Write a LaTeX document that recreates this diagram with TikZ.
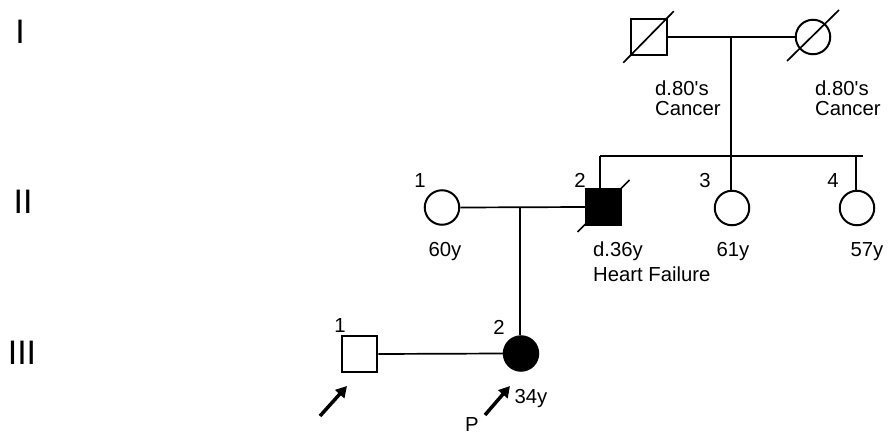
\documentclass[tikz,border=0pt]{standalone}
\usepackage{fontspec}
\setmainfont{Liberation Sans}
\usetikzlibrary{arrows.meta}
\begin{document}
\begin{tikzpicture}[x=1pt,y=-1pt,
  male/.style={draw,line width=2pt,rectangle,minimum size=35.5pt,inner sep=0pt},
  female/.style={draw,line width=2pt,circle,minimum size=34.5pt,inner sep=0pt},
  lbl/.style={font=\fontsize{20.3}{23}\selectfont,inner sep=0pt},
  gen/.style={font=\fontsize{34}{38}\selectfont,inner sep=0pt,anchor=base},
  rel/.style={line width=1.7pt},
  dead/.style={line width=1.7pt},
  proband/.style={line width=3.5pt,-{Triangle[length=11pt,width=12pt]}}
]
\useasboundingbox (0,0) rectangle (892,434);

% generation labels
\node[gen] (gI) at (20,43) {I};
\node[gen] (gII) at (23,213) {II};
\node[gen] (gIII) at (22,364) {III};

% generation I
\node[male] (I1) at (649,37) {};
\node[female] (I2) at (813,37) {};
\draw[dead] ([shift={(-7,7)}]I1.south west) -- ([shift={(6,-7)}]I1.north east);
\draw[dead] ([shift={(-26,24)}]I2.center) -- ([shift={(26,-27)}]I2.center);
\draw[rel] (I1.east) -- (I2.west);
\coordinate (m1) at (731,37);
\coordinate (s1) at (731,156);
\coordinate (sl) at (600,156);
\coordinate (sr) at (863,156);
\draw[rel] (m1) -- (s1);
\draw[rel] (sl) -- (sr);
\node[lbl,anchor=base west] (t1a) at (655,95) {d.80\textquotesingle s};
\node[lbl,anchor=base west] (t1b) at (655,115) {Cancer};
\node[lbl,anchor=base west] (t2a) at (815,95) {d.80\textquotesingle s};
\node[lbl,anchor=base west] (t2b) at (815,115) {Cancer};

% generation II
\node[female] (II1) at (442,207.5) {};
\node[male,fill=black] (II2) at (603.5,207) {};
\node[female] (II3) at (732,208) {};
\node[female] (II4) at (857,208) {};
\draw[dead] ([shift={(-26,25)}]II2.center) -- ([shift={(26,-27)}]II2.center);
\draw[rel] (sl) -- (sl |- II2.north);
\draw[rel] (s1) -- (s1 |- II3.north);
\coordinate (s4) at (856,156);
\draw[rel] (s4) -- (s4 |- II4.north);
\draw[rel] (II1.east) -- (II2.west);
\coordinate (m2) at (520,207);

\node[lbl,anchor=base] (n21) at (420,187) {1};
\node[lbl,anchor=base] (n22) at (580,187) {2};
\node[lbl,anchor=base] (n23) at (705,187) {3};
\node[lbl,anchor=base] (n24) at (833,187) {4};
\node[lbl,anchor=base] (a21) at (445,256) {60y};
\node[lbl,anchor=base west] (a22) at (593,256) {d.36y};
\node[lbl,anchor=base west] (a22b) at (593,281) {Heart Failure};
\node[lbl,anchor=base] (a23) at (733,256) {61y};
\node[lbl,anchor=base] (a24) at (867,256) {57y};

% generation III
\node[male] (III1) at (359.5,354) {};
\node[female,fill=black] (III2) at (521,353.5) {};
\draw[rel] (m2) -- (m2 |- III2.north);
\draw[rel] (III1.east) -- (III2.west);
\node[lbl,anchor=base] (n31) at (340,332) {1};
\node[lbl,anchor=base] (n32) at (499,334) {2};
\node[lbl,anchor=base] (a32) at (531,403) {34y};
\node[lbl,anchor=base] (p) at (472,431) {P};

\coordinate (ar1s) at (320,416);
\coordinate (ar1e) at (347,386);
\coordinate (ar2s) at (485,415);
\coordinate (ar2e) at (510,386);
\draw[proband] (ar1s) -- (ar1e);
\draw[proband] (ar2s) -- (ar2e);
\end{tikzpicture}
\end{document}
